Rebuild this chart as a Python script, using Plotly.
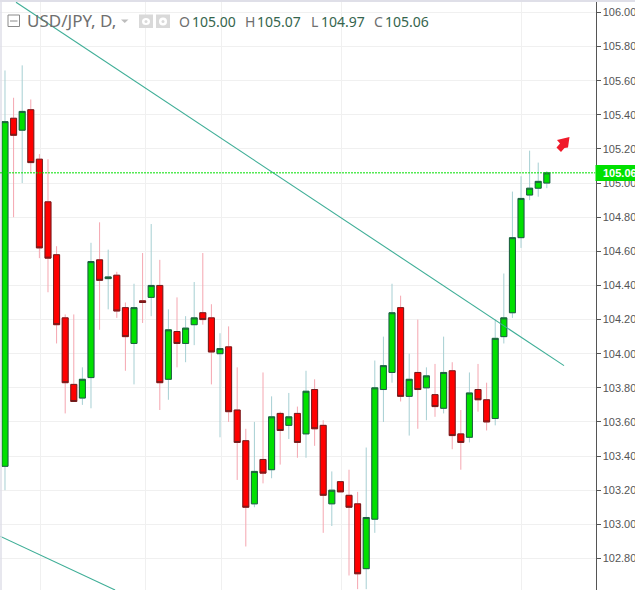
import plotly.graph_objects as go

# daily candles
opens = [103.34, 105.38, 105.31, 105.43, 105.14, 104.89, 104.58, 104.21, 103.82, 103.74,
         103.86, 104.55, 104.44, 104.46, 104.27, 104.06, 104.31, 104.33, 104.40, 103.85,
         104.13, 104.06, 104.17, 104.24, 104.21, 104.00, 104.04, 103.67, 103.49, 103.12,
         103.38, 103.32, 103.65, 103.58, 103.65, 103.53, 103.79, 103.58, 103.12, 103.25,
         103.17, 103.12, 102.74, 103.03, 103.79, 103.89, 104.27, 103.75, 103.89, 103.80,
         103.76, 103.68, 103.90, 103.53, 103.51, 103.79, 103.73, 103.62, 104.10, 104.24,
         104.68, 104.93, 104.97, 105.00]
highs = [105.66, 105.50, 105.69, 105.49, 105.17, 105.14, 104.63, 104.23, 104.23, 103.92,
         104.65, 104.77, 104.61, 104.48, 104.30, 104.41, 104.59, 104.76, 104.55, 104.26,
         104.33, 104.22, 104.42, 104.59, 104.29, 104.12, 104.16, 103.92, 103.56, 103.60,
         103.89, 103.75, 103.66, 103.77, 103.69, 103.90, 103.85, 103.61, 103.31, 103.25,
         103.32, 103.19, 103.45, 103.96, 104.10, 104.41, 104.34, 104.00, 104.20, 103.92,
         103.94, 104.10, 103.95, 103.67, 103.89, 103.94, 103.83, 104.20, 104.47, 104.95,
         105.04, 105.19, 105.12, 105.07]
lows = [103.20, 104.80, 105.00, 105.06, 104.56, 104.36, 104.06, 103.65, 103.72, 103.70,
        103.68, 104.14, 104.26, 104.21, 103.90, 103.82, 104.18, 104.22, 103.67, 103.73,
        103.92, 103.95, 104.05, 104.17, 103.82, 103.51, 103.60, 103.26, 102.87, 103.10,
        103.24, 103.27, 103.35, 103.50, 103.39, 103.39, 103.46, 102.95, 102.99, 103.19,
        102.70, 102.62, 102.62, 102.95, 103.60, 103.83, 103.72, 103.52, 103.56, 103.61,
        103.63, 103.65, 103.44, 103.32, 103.48, 103.66, 103.55, 103.58, 104.06, 104.21,
        104.62, 104.90, 104.92, 104.97]
closes = [105.36, 105.28, 105.42, 105.12, 104.62, 104.56, 104.17, 103.83, 103.72, 103.85,
          104.54, 104.43, 104.45, 104.25, 104.10, 104.27, 104.30, 104.40, 103.83, 104.14,
          104.06, 104.15, 104.21, 104.20, 104.01, 104.03, 103.66, 103.48, 103.10, 103.31,
          103.30, 103.63, 103.55, 103.63, 103.48, 103.78, 103.56, 103.17, 103.20, 103.19,
          103.10, 102.71, 103.04, 103.80, 103.93, 104.24, 103.75, 103.85, 103.79, 103.87,
          103.69, 103.89, 103.52, 103.48, 103.77, 103.73, 103.60, 104.09, 104.21, 104.68,
          104.91, 104.97, 105.01, 105.06]
days = list(range(len(opens)))

# price axis
y_ticks = [102.8, 103.0, 103.2, 103.4, 103.6, 103.8, 104.0, 104.2, 104.4, 104.6,
           104.8, 105.0, 105.2, 105.4, 105.6, 105.8, 106.0]
y_labels = ["%.2f" % t for t in y_ticks]
month_lines = [4.1, 16.3, 25.2, 39.15, 60.1]

# trend lines and last price
trend_top_x = [1.28, 65.0]
trend_top_y = [106.06, 103.93]
trend_low_x = [-0.58, 12.8]
trend_low_y = [102.93, 102.615]
last_price = 105.06

W, H = 635, 590
GREY = "#6f6f6f"
VALUE = "#35654d"
FONT = "Noto Sans"


def px(x):
    return x / W


def py(y):
    return 1 - y / H


fig = go.Figure()

# wicks: pale candles behind
fig.add_trace(go.Candlestick(
    x=days, open=opens, high=highs, low=lows, close=closes,
    increasing=dict(line=dict(color="#a6cfd3", width=1), fillcolor="#a6cfd3"),
    decreasing=dict(line=dict(color="#f5a6b0", width=1), fillcolor="#f5a6b0"),
    hoverinfo="skip", showlegend=False))

# bodies with their dark outline on top
fig.add_trace(go.Candlestick(
    x=days, open=opens, close=closes,
    high=[max(o, c) for o, c in zip(opens, closes)],
    low=[min(o, c) for o, c in zip(opens, closes)],
    increasing=dict(line=dict(color="#1d5c3f", width=1), fillcolor="#00e000"),
    decreasing=dict(line=dict(color="#6f1c1c", width=1), fillcolor="#ff0000"),
    hoverinfo="skip", showlegend=False))

fig.add_trace(go.Scatter(x=trend_top_x, y=trend_top_y, mode="lines",
                         line=dict(color="#3fae97", width=1.1),
                         hoverinfo="skip", showlegend=False))
fig.add_trace(go.Scatter(x=trend_low_x, y=trend_low_y, mode="lines",
                         line=dict(color="#3fae97", width=1.1),
                         hoverinfo="skip", showlegend=False))

fig.update_layout(
    width=W, height=H, autosize=False,
    margin=dict(t=0, b=0, l=0, r=0),
    paper_bgcolor="white", plot_bgcolor="white",
    boxmode="overlay", boxgap=0, boxgroupgap=0.3,
    xaxis=dict(domain=[0, 595.5 / W], range=[-0.58, 68.66], automargin=False,
               rangeslider=dict(visible=False), tickmode="array",
               tickvals=month_lines, ticktext=[""] * len(month_lines),
               showgrid=True, gridcolor="#f0f0f0", gridwidth=1,
               zeroline=False, showline=False, ticks=""),
    yaxis=dict(side="right", range=[102.615, 106.073], tickmode="array", automargin=False,
               tickvals=y_ticks, ticktext=y_labels,
               showgrid=True, gridcolor="#f0f0f0", gridwidth=1, zeroline=False,
               showline=True, linecolor="#555555", linewidth=1,
               ticks="outside", ticklen=4, tickcolor="#555555",
               tickfont=dict(family="Liberation Sans", size=11, color="#555555")),
)

# red arrow outline in picture pixels
arrow_pts = [(569.5, 137), (557, 140), (560, 143.5), (556.5, 147.5), (561, 152),
             (564.5, 148), (568, 147.5)]
arrow_path = "M " + " L ".join("%f %f" % (px(a), py(b)) for a, b in arrow_pts) + " Z"

shapes = [
    # frame
    dict(type="line", xref="paper", yref="paper", x0=0, x1=1, y0=py(1), y1=py(1),
         line=dict(color="#dfdfe8", width=2)),
    dict(type="line", xref="paper", yref="paper", x0=px(1), x1=px(1), y0=0, y1=1,
         line=dict(color="#dfdfe8", width=1.5)),
    # last price line
    dict(type="line", xref="x", yref="y", x0=-0.58, x1=68.66, y0=last_price, y1=last_price,
         line=dict(color="#00e000", width=1, dash="2px,1px")),
    # last price box
    dict(type="rect", xref="paper", yref="paper", x0=px(595.5), x1=1, y0=py(181), y1=py(165),
         fillcolor="#00e000", line=dict(width=0)),
    # collapse button
    dict(type="rect", xref="paper", yref="paper", x0=px(8), x1=px(19.5), y0=py(26.5), y1=py(15),
         line=dict(color="#8a8a8a", width=1)),
    dict(type="line", xref="paper", yref="paper", x0=px(10), x1=px(17.5), y0=py(21), y1=py(21),
         line=dict(color="#8a8a8a", width=1)),
    # eye and gear buttons
    dict(type="rect", xref="paper", yref="paper", x0=px(139), x1=px(153), y0=py(28), y1=py(14.5),
         fillcolor="#d9d9d9", line=dict(width=0)),
    dict(type="circle", xref="paper", yref="paper", x0=px(142), x1=px(150), y0=py(25), y1=py(18),
         fillcolor="white", line=dict(width=0)),
    dict(type="circle", xref="paper", yref="paper", x0=px(144.5), x1=px(147.5), y0=py(23), y1=py(20),
         fillcolor="#d9d9d9", line=dict(width=0)),
    dict(type="rect", xref="paper", yref="paper", x0=px(156), x1=px(170), y0=py(28), y1=py(14.5),
         fillcolor="#d9d9d9", line=dict(width=0)),
    dict(type="circle", xref="paper", yref="paper", x0=px(159), x1=px(167), y0=py(25.5), y1=py(17.5),
         fillcolor="white", line=dict(width=0)),
    dict(type="circle", xref="paper", yref="paper", x0=px(161.5), x1=px(164.5), y0=py(23), y1=py(20),
         fillcolor="#d9d9d9", line=dict(width=0)),
    # dropdown triangle
    dict(type="path", xref="paper", yref="paper",
         path="M %f %f L %f %f L %f %f Z" % (px(121), py(19.5), px(128.5), py(19.5), px(124.7), py(23)),
         fillcolor="#bdbdbd", line=dict(width=0)),
    # red arrow
    dict(type="path", xref="paper", yref="paper", path=arrow_path,
         fillcolor="#f01a2a", line=dict(width=0)),
]
fig.update_layout(shapes=shapes)

notes = [
    ("USD/JPY, D,", 25, 21, 17, GREY),
    ("O", 176.5, 22, 14, GREY), ("105.00", 189.5, 22, 14, VALUE),
    ("H", 242.5, 22, 14, GREY), ("105.07", 254.5, 22, 14, VALUE),
    ("L", 308.5, 22, 14, GREY), ("104.97", 318.5, 22, 14, VALUE),
    ("C", 371.5, 22, 14, GREY), ("105.06", 382.5, 22, 14, VALUE),
]
annotations = [dict(text=t, x=px(x), y=py(y), xref="paper", yref="paper", xanchor="left",
                    yanchor="middle", showarrow=False, font=dict(family=FONT, size=s, color=c))
               for t, x, y, s, c in notes]
# price tag
annotations.append(dict(text="<b>105.06</b>", x=px(601), y=py(173), xref="paper", yref="paper",
                        xanchor="left", yanchor="middle", showarrow=False,
                        font=dict(family="Liberation Sans", size=11, color="white")))
fig.update_layout(annotations=annotations)

fig.write_html("out.html", config=dict(displayModeBar=False),
               post_script="document.body.style.margin='0';")
